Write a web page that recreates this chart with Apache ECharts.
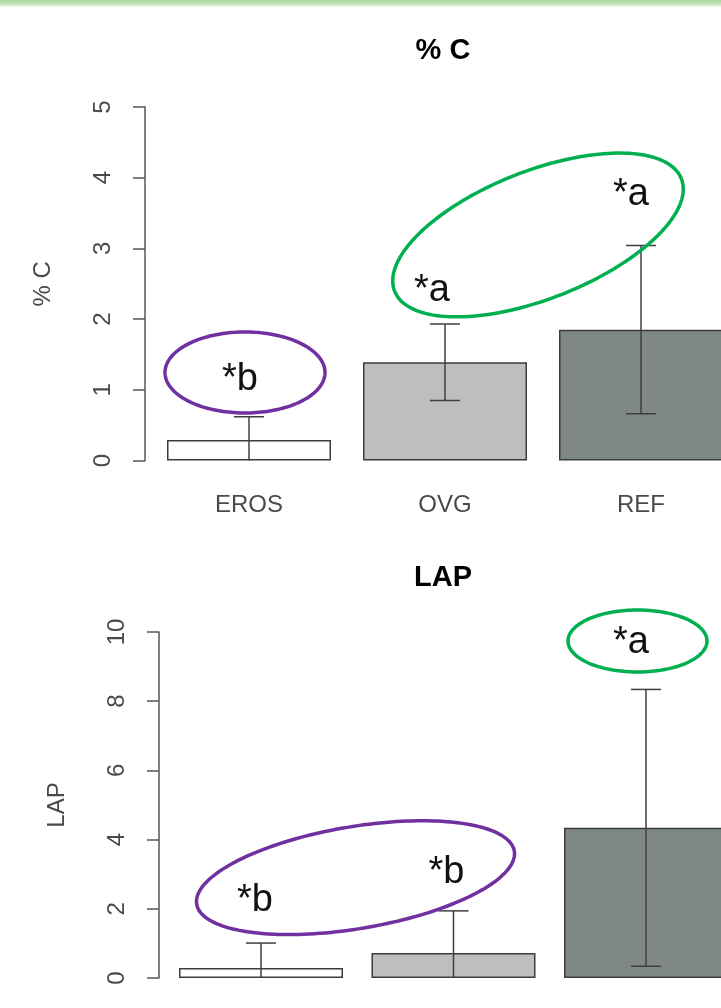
<!DOCTYPE html>
<html>
<head>
<meta charset="utf-8">
<title>% C and LAP by site</title>
<script src="https://cdn.jsdelivr.net/npm/echarts@6/dist/echarts.min.js"></script>
<style>
  html, body { margin: 0; padding: 0; background: #ffffff; }
  #chart { width: 721px; height: 1008px; }
</style>
</head>
<body>
<div id="chart"></div>
<script>
// ---- data -------------------------------------------------------------
const groups = ['EROS', 'OVG', 'REF'];

const carbonMean = [0.29, 1.39, 1.85];
const carbonErr = [0.33, 0.54, 1.19];
const carbonLetters = ['*b', '*a', '*a'];
const carbonTicks = { min: 0, max: 5, step: 1 };

const lapMean = [0.29, 0.72, 4.34];
const lapErr = [0.72, 1.22, 4.0];
const lapLetters = ['*b', '*b', '*a'];
const lapTicks = { min: 0, max: 10, step: 2 };

// ---- layout & style ---------------------------------------------------
const FONT = '"Liberation Sans", Arial, Helvetica, sans-serif';
const INK = '#4a4a4a';
const BAR_FILLS = ['#ffffff', '#bebebe', '#7f8886'];
const PURPLE = '#7030a0';
const GREEN = '#00b050';

// letter anchors: [category, height on value axis, horizontal shift px]
const carbonLetterPos = [[0, 1.15, -9], [1, 2.41, -13], [2, 3.76, -10]];
const lapLetterPos = [[0, 2.25, -6], [1, 3.06, -7], [2, 9.71, -15]];

// grouping rings: centre on [category, value] + shift, radii px, tilt deg
const carbonRings = [
  { cat: 0, y: 1.245, dx: -4, rx: 80, ry: 40.5, tilt: 0, color: PURPLE },
  { cat: 1, y: 3.19, dx: 93, rx: 154, ry: 64, tilt: 21.4, color: GREEN }
];
const lapRings = [
  { cat: 0, y: 2.9, dx: 94.5, rx: 161, ry: 51, tilt: 9.5, color: PURPLE },
  { cat: 2, y: 9.74, dx: -8.5, rx: 69.5, ry: 31, tilt: 0, color: GREEN }
];

// ---- helpers ----------------------------------------------------------
function barData(means) {
  return means.map((v, i) => ({ value: v, itemStyle: { color: BAR_FILLS[i] } }));
}

function errData(means, errs) {
  return means.map((m, i) => [i, m - errs[i], m + errs[i]]);
}

function renderError(params, api) {
  const x = api.value(0);
  const top = api.coord([x, api.value(2)]);
  const bot = api.coord([x, api.value(1)]);
  const cap = 15;
  const style = { stroke: '#3f3f3f', lineWidth: 1.5 };
  return {
    type: 'group',
    children: [
      { type: 'line', shape: { x1: top[0], y1: top[1], x2: bot[0], y2: bot[1] }, style },
      { type: 'line', shape: { x1: top[0] - cap, y1: top[1], x2: top[0] + cap, y2: top[1] }, style },
      { type: 'line', shape: { x1: bot[0] - cap, y1: bot[1], x2: bot[0] + cap, y2: bot[1] }, style }
    ]
  };
}

function ellipsePoints(cx, cy, rx, ry, deg) {
  const t = deg * Math.PI / 180, c = Math.cos(t), s = Math.sin(t);
  const pts = [];
  for (let k = 0; k < 180; k++) {
    const a = 2 * Math.PI * k / 180;
    const u = rx * Math.cos(a), v = ry * Math.sin(a);
    pts.push([cx + u * c - v * s, cy - (u * s + v * c)]);
  }
  return pts;
}

function ringSeries(rings, idx) {
  return {
    type: 'custom', xAxisIndex: idx, yAxisIndex: idx, clip: false, z: 5,
    silent: true,
    data: rings.map(r => [r.cat, r.y]),
    renderItem(params, api) {
      const r = rings[params.dataIndex];
      const p = api.coord([api.value(0), api.value(1)]);
      return {
        type: 'polygon',
        shape: { points: ellipsePoints(p[0] + r.dx, p[1], r.rx, r.ry, r.tilt) },
        style: { fill: 'none', stroke: r.color, lineWidth: 3.5 }
      };
    }
  };
}

function letterSeries(letters, pos, idx) {
  return {
    type: 'custom', xAxisIndex: idx, yAxisIndex: idx, clip: false, z: 6,
    silent: true,
    data: pos.map(p => [p[0], p[1]]),
    renderItem(params, api) {
      const p = api.coord([api.value(0), api.value(1)]);
      return {
        type: 'text',
        x: p[0] + pos[params.dataIndex][2],
        y: p[1],
        style: {
          text: letters[params.dataIndex],
          fontSize: 38, fontFamily: FONT, fill: '#111111',
          align: 'center', verticalAlign: 'middle'
        }
      };
    }
  };
}

function valueAxis(idx, ticks, name, offset, labelMargin, nameGap) {
  return {
    type: 'value', gridIndex: idx,
    min: ticks.min, max: ticks.max, interval: ticks.step,
    offset: offset,
    axisLine: { show: true, lineStyle: { color: '#555555', width: 1.5 } },
    axisTick: { show: true, length: 12, lineStyle: { color: '#555555', width: 1.5 } },
    splitLine: { show: false },
    axisLabel: { rotate: 90, fontSize: 24, fontFamily: FONT, color: INK, margin: labelMargin },
    name: name, nameLocation: 'middle', nameRotate: 90, nameGap: nameGap,
    nameTextStyle: { fontSize: 24, fontFamily: FONT, color: INK }
  };
}

function categoryAxis(idx, showLabels) {
  return {
    type: 'category', gridIndex: idx, data: groups,
    axisLine: { show: false }, axisTick: { show: false },
    axisLabel: { show: showLabels, fontSize: 24, fontFamily: FONT, color: INK, margin: 33 }
  };
}

// ---- chart ------------------------------------------------------------
const chart = echarts.init(document.getElementById('chart'));

chart.setOption({
  animation: false,
  backgroundColor: '#ffffff',
  grid: [
    { left: 151, top: 107, width: 588, height: 353.5, outerBoundsMode: 'none', containLabel: false },
    { left: 164.75, top: 632, width: 577.5, height: 346, outerBoundsMode: 'none', containLabel: false }
  ],
  xAxis: [categoryAxis(0, true), categoryAxis(1, false)],
  yAxis: [
    valueAxis(0, carbonTicks, '% C', 6, 30, 90),
    valueAxis(1, lapTicks, 'LAP', 5.75, 30, 90)
  ],
  graphic: [
    {
      type: 'rect', left: 0, top: 0, silent: true,
      shape: { width: 721, height: 9 },
      style: {
        fill: new echarts.graphic.LinearGradient(0, 0, 0, 1, [
          { offset: 0, color: '#a9d79b' },
          { offset: 0.5, color: '#c9e7bf' },
          { offset: 1, color: 'rgba(255,255,255,0)' }
        ])
      }
    },
    {
      type: 'text', x: 443, y: 51, silent: true,
      style: { text: '% C', fontSize: 29, fontWeight: 'bold', fontFamily: FONT, fill: '#000', align: 'center', verticalAlign: 'middle' }
    },
    {
      type: 'text', x: 443, y: 578, silent: true,
      style: { text: 'LAP', fontSize: 29, fontWeight: 'bold', fontFamily: FONT, fill: '#000', align: 'center', verticalAlign: 'middle' }
    }
  ],
  series: [
    {
      type: 'bar', xAxisIndex: 0, yAxisIndex: 0, barWidth: 164,
      itemStyle: { borderColor: '#3c3c3c', borderWidth: 1.5 },
      data: barData(carbonMean)
    },
    {
      type: 'custom', xAxisIndex: 0, yAxisIndex: 0, clip: true, z: 4,
      renderItem: renderError, data: errData(carbonMean, carbonErr)
    },
    ringSeries(carbonRings, 0),
    letterSeries(carbonLetters, carbonLetterPos, 0),
    {
      type: 'bar', xAxisIndex: 1, yAxisIndex: 1, barWidth: 164,
      itemStyle: { borderColor: '#3c3c3c', borderWidth: 1.5 },
      data: barData(lapMean)
    },
    {
      type: 'custom', xAxisIndex: 1, yAxisIndex: 1, clip: true, z: 4,
      renderItem: renderError, data: errData(lapMean, lapErr)
    },
    ringSeries(lapRings, 1),
    letterSeries(lapLetters, lapLetterPos, 1)
  ]
});
</script>
</body>
</html>
